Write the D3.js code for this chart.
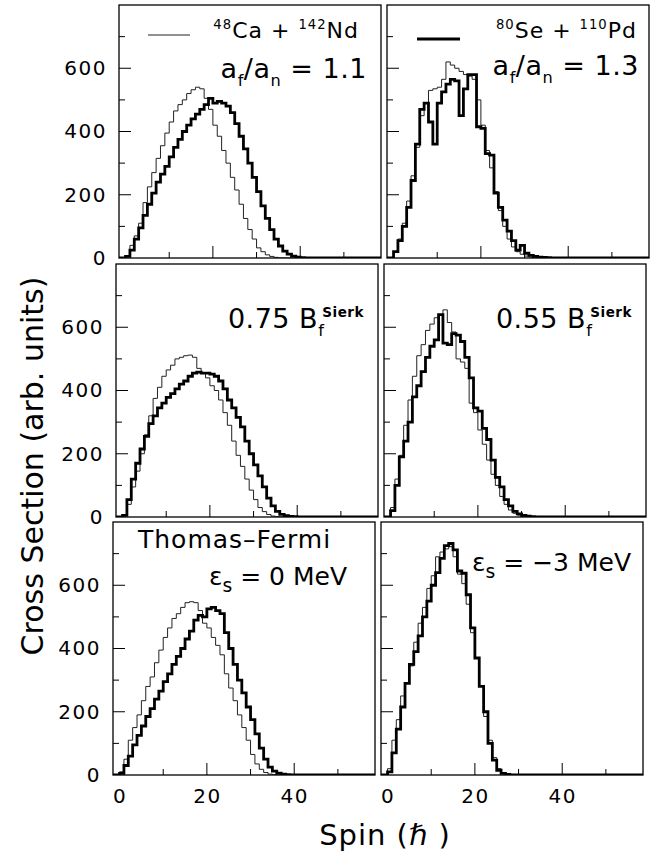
<!DOCTYPE html>
<html><head><meta charset="utf-8">
<script src="https://cdn.jsdelivr.net/npm/d3@7"></script>
<style>
body{margin:0;background:#fff;}
svg{display:block;font-family:"DejaVu Sans",sans-serif;}
</style></head>
<body><svg id="c" width="658" height="852"></svg>
<script>
// ---- data: cross section per 1-hbar spin bin, starting at spin 0 ----
const TL_thin  = [5,40,70,110,175,225,270,315,355,395,430,465,485,500,520,532,540,535,505,470,420,385,340,300,255,215,170,125,90,60,32,20,10,5,2,0];
const TL_thick = [5,25,60,95,135,170,205,240,265,290,320,350,375,400,420,440,455,470,485,505,490,495,490,480,460,425,385,345,300,255,210,165,125,90,60,38,22,12,6,3,1];
const TR_thin  = [20,60,110,180,260,350,450,490,530,535,540,565,620,610,600,590,580,575,565,500,420,340,285,210,150,100,60,35,20,12,6,3];
const TR_thick = [20,55,100,160,245,360,470,490,430,360,490,525,550,565,560,450,535,580,580,415,410,330,325,205,160,120,85,55,25,40,15,8,5,3,2,1];
const ML_thin  = [5,40,95,145,200,260,320,375,410,445,465,480,500,505,510,512,505,470,455,440,415,400,370,330,290,240,195,160,120,85,55,30,17,8,3,1];
const ML_thick = [5,55,120,170,215,255,295,320,345,360,378,390,405,420,430,445,455,458,455,455,452,445,430,405,370,345,315,285,240,200,165,130,95,60,35,18,8,4,2,1];
const MR_thin  = [30,120,195,290,370,445,510,545,590,610,630,640,655,615,585,500,490,470,360,330,275,230,180,135,100,65,40,22,12,6,3];
const MR_thick = [20,100,190,240,300,380,415,460,505,540,560,640,550,545,580,575,555,505,440,345,335,280,245,180,125,95,55,35,18,10,5,3,1];
const BL_thin  = [10,50,110,150,190,235,280,310,355,395,435,465,495,510,530,545,548,545,520,480,465,435,410,380,320,275,235,190,150,110,65,35,18,8,3,1];
const BL_thick = [5,30,60,95,125,155,185,210,240,265,295,320,350,375,400,430,455,490,505,500,525,530,520,510,450,400,350,300,260,215,175,130,85,50,25,12,6,3,1];
const BR_thin  = [20,110,175,250,290,345,420,480,530,590,630,690,705,715,722,690,635,605,540,450,370,280,185,110,55,20,8,3];
const BR_thick = [10,70,145,215,290,350,390,440,500,550,600,640,685,725,732,712,645,638,570,465,370,280,200,100,47,15,5,2];

const xTickLabels = [0, 20, 40];
const yTickLabels = [0, 200, 400, 600];
const xTicks = [10, 20, 30, 40, 50];
const yTicks = [100, 200, 300, 400, 500, 600, 700];

const panels = [
  {row:0,col:0,thin:TL_thin,thick:TL_thick},
  {row:0,col:1,thin:TR_thin,thick:TR_thick},
  {row:1,col:0,thin:ML_thin,thick:ML_thick},
  {row:1,col:1,thin:MR_thin,thick:MR_thick},
  {row:2,col:0,thin:BL_thin,thick:BL_thick},
  {row:2,col:1,thin:BR_thin,thick:BR_thick}
];

// ---- layout ----
const PW = 262, PH = 253;
const rowTop = [5, 264, 522];
const rowShift = [6, 3, 0];
const colLeft = [113, 381];
const xDom = [-1.5, 58.5];

const svg = d3.select("#c");
const x = d3.scaleLinear().domain(xDom).range([0, PW]);
const y = d3.scaleLinear().domain([0, 800]).range([PH, 0]);

const line = d3.line().x(d => x(d[0])).y(d => y(d[1])).curve(d3.curveStepAfter);
function histPts(vals){
  const pts = [[xDom[0],0],[0,0]];
  vals.forEach((v,i)=>pts.push([i,v]));
  pts.push([vals.length,0]);
  pts.push([xDom[1],0]);
  return pts;
}

const defs = svg.append("defs");

panels.forEach((p,k)=>{
  const L = colLeft[p.col] + rowShift[p.row], T = rowTop[p.row];
  const g = svg.append("g").attr("transform",`translate(${L},${T})`);
  defs.append("clipPath").attr("id","cp"+k).append("rect").attr("width",PW).attr("height",PH);

  g.selectAll(".xt").data(xTicks).join("line")
    .attr("x1",d=>x(d)).attr("x2",d=>x(d))
    .attr("y1",PH).attr("y2",d=> PH - (d%20===0?12:6))
    .attr("stroke","#000").attr("stroke-width",1);
  g.selectAll(".yt").data(yTicks).join("line")
    .attr("x1",0).attr("x2",d=> (d%200===0?12:6))
    .attr("y1",d=>y(d)).attr("y2",d=>y(d))
    .attr("stroke","#000").attr("stroke-width",1);

  const hg = g.append("g").attr("clip-path",`url(#cp${k})`);
  hg.append("path").attr("d",line(histPts(p.thin)))
    .attr("fill","none").attr("stroke","#222").attr("stroke-width",1);
  hg.append("path").attr("d",line(histPts(p.thick)))
    .attr("fill","none").attr("stroke","#000").attr("stroke-width",2.8);

  g.append("rect").attr("width",PW).attr("height",PH)
    .attr("fill","none").attr("stroke","#000").attr("stroke-width",1.3);

  if(p.col===0){
    const ya = d3.axisLeft(y).tickValues(yTickLabels).tickSize(0).tickPadding(12);
    const ag = g.append("g").call(ya);
    ag.select(".domain").remove();
    ag.selectAll("text").attr("font-size",20).attr("font-family","DejaVu Sans").attr("fill","#000")
      .attr("letter-spacing",1.5);
  }
  if(p.row===2){
    const xa = d3.axisBottom(x).tickValues(xTickLabels).tickSize(0).tickPadding(14);
    const ag = g.append("g").attr("transform",`translate(0,${PH})`).call(xa);
    ag.select(".domain").remove();
    ag.selectAll("text").attr("font-size",20).attr("font-family","DejaVu Sans").attr("fill","#000")
      .attr("letter-spacing",1.5);
  }
  p.g = g;
});

function rich(g, xx, yy, parts, size, anchor, ls){
  const t = g.append("text").attr("x",xx).attr("y",yy).attr("font-size",size)
    .attr("text-anchor",anchor||"start").attr("fill","#000").attr("letter-spacing",ls==null?1:ls);
  let shift = 0;
  parts.forEach(pt=>{
    const target = pt.sup ? -0.42*size : pt.sub ? 0.28*size : 0;
    const ts = t.append("tspan").text(pt.t).attr("dy", target - shift);
    if(pt.sup||pt.sub) ts.attr("font-size", size*(pt.sc||0.6));
    if(pt.bold) ts.attr("font-weight","bold");
    if(pt.dx) ts.attr("dx",pt.dx);
    shift = target;
  });
  return t;
}

const P = panels;
P[0].g.append("line").attr("x1",29).attr("x2",71).attr("y1",30).attr("y2",30)
  .attr("stroke","#222").attr("stroke-width",1);
P[1].g.append("line").attr("x1",30).attr("x2",73).attr("y1",34).attr("y2",34)
  .attr("stroke","#000").attr("stroke-width",2.8);

rich(P[0].g, PW-22, 33, [{t:"48",sup:true},{t:"Ca + "},{t:"142",sup:true},{t:"Nd"}], 22, "end");
rich(P[0].g, PW-14, 73, [{t:"a"},{t:"f",sub:true},{t:"/a"},{t:"n",sub:true},{t:" = 1.1"}], 27, "end", 0.5);
rich(P[1].g, PW-12, 33, [{t:"80",sup:true},{t:"Se + "},{t:"110",sup:true},{t:"Pd"}], 22, "end");
rich(P[1].g, PW-10, 70, [{t:"a"},{t:"f",sub:true},{t:"/a"},{t:"n",sub:true},{t:" = 1.3"}], 27, "end", 0.5);
rich(P[2].g, PW-14, 64, [{t:"0.75 B"},{t:"f",sub:true},{t:"Sierk",sup:true,bold:true,sc:0.5,dx:-2}], 27, "end", 0.5);
rich(P[3].g, PW-14, 64, [{t:"0.55 B"},{t:"f",sub:true},{t:"Sierk",sup:true,bold:true,sc:0.5,dx:-2}], 27, "end", 0.5);
rich(P[4].g, 25, 26, [{t:"Thomas\u2013Fermi"}], 25, "start");
rich(P[4].g, PW-28, 63, [{t:"\u03b5"},{t:"s",sub:true,sc:0.75},{t:" = 0 MeV"}], 25, "end", 0);
rich(P[5].g, PW-12, 49, [{t:"\u03b5"},{t:"s",sub:true,sc:0.75},{t:" = \u22123 MeV"}], 25, "end", 0);

svg.append("text").attr("transform","translate(43,466) rotate(-90)")
  .attr("text-anchor","middle").attr("font-size",30).attr("fill","#000")
  .text("Cross Section (arb. units)");
svg.append("text").attr("x",385).attr("y",845).attr("text-anchor","middle")
  .attr("font-size",29).attr("letter-spacing",1).attr("fill","#000")
  .text("Spin (\u210f )");
</script></body></html>
